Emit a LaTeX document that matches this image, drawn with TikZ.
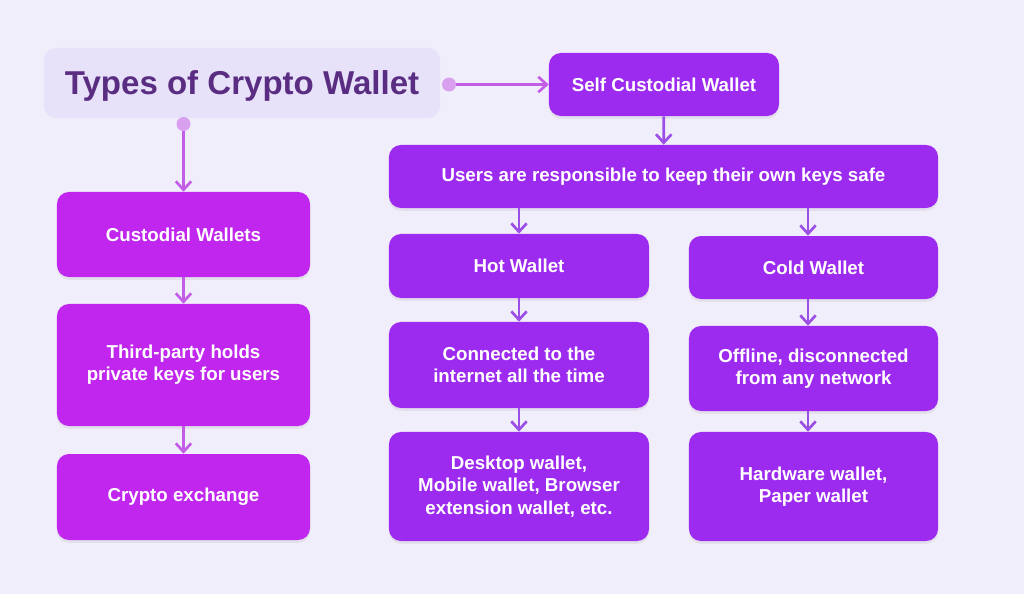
\documentclass[tikz,border=0pt]{standalone}
\usepackage{fontspec}
\setmainfont{Liberation Sans}
\usetikzlibrary{positioning,arrows.meta,shadows}

\definecolor{pagebg}{HTML}{F1EEFB}
\definecolor{titlebg}{HTML}{E7E2FA}
\definecolor{titleink}{HTML}{5A2D82}
\definecolor{custfill}{HTML}{C026EE}
\definecolor{selffill}{HTML}{9D2BEF}
\definecolor{custline}{HTML}{C25EE6}
\definecolor{selfline}{HTML}{9B4FE6}
\definecolor{dotfill}{HTML}{D9A0F0}

\begin{document}
\begin{tikzpicture} [
	x=0.025cm,y=-0.025cm,
	text centered,
	font=\fontsize{13.3}{15.8}\selectfont\bfseries,
	nbox/.style={
		rectangle,rounded corners=0.3cm,text=white,align=center,
		drop shadow={opacity=0.12,shadow xshift=0pt,shadow yshift=-2pt}
	},
	ncust/.style={
		nbox,fill=custfill,minimum width=6.325cm
	},
	nself/.style={
		nbox,fill=selffill
	},
	nhalf/.style={
		nself,minimum width=6.5cm
	},
	ntitle/.style={
		rectangle,rounded corners=0.3cm,fill=titlebg,text=titleink,
		minimum width=9.9cm,minimum height=1.75cm,text depth=0pt,
		font=\fontsize{23.5}{28}\selectfont\bfseries
	},
	custarrow/.style={-{Straight Barb[length=6pt,width=11pt]},draw=custline,line width=1.9pt},
	selfarrow/.style={-{Straight Barb[length=6pt,width=11pt]},draw=selfline,line width=1.9pt},
	ndot/.style={circle,fill=dotfill,inner sep=0pt,minimum size=0.35cm}
]
\fill [pagebg] (0,0) rectangle (1024,594);

% title and its two ways out
\node [ntitle]	(title)		at (242,83)		{Types of Crypto Wallet};
\node [ndot]	(rdot)		at (449,84.5)	{};
\node [ndot]	(bdot)		at (183.5,124)	{};

% custodial branch
\node [ncust,minimum height=2.125cm]	(custodial)	at (183.5,234.5)	{Custodial Wallets};
\node [ncust,minimum height=3.05cm]	(thirdparty)	at (183.5,365)	{Third-party holds\\private keys for users};
\node [ncust,minimum height=2.15cm]	(exchange)	at (183.5,497)	{Crypto exchange};

% self custodial branch
\node [nself,minimum width=5.75cm,minimum height=1.575cm]	(selfcust)	at (664,84.5)	{Self Custodial Wallet};
\node [nself,minimum width=13.725cm,minimum height=1.575cm]	(users)	at (663.5,176.5)	{Users are responsible to keep their own keys safe};
\node [nhalf,minimum height=1.6cm]	(hot)		at (519,266)	{Hot Wallet};
\node [nhalf,minimum width=6.225cm,minimum height=1.575cm]	(cold)	at (813.5,267.5)	{Cold Wallet};
\node [nhalf,minimum height=2.15cm]	(online)	at (519,365)	{Connected to the\\internet all the time};
\node [nhalf,minimum width=6.225cm,minimum height=2.125cm]	(offline)	at (813.5,368.5)	{Offline, disconnected\\from any network};
\node [nhalf,minimum height=2.725cm]	(hotkinds)	at (519,486.5)	{Desktop wallet,\\Mobile wallet, Browser\\extension wallet, etc.};
\node [nhalf,minimum width=6.225cm,minimum height=2.725cm]	(coldkinds)	at (813.5,486.5)	{Hardware wallet,\\Paper wallet};

% connectors
\draw [custarrow] (rdot.east) -- (rdot -| selfcust.west);
\draw [custarrow] (bdot.south) -- (custodial.north);
\draw [custarrow] (custodial) -- (thirdparty);
\draw [custarrow] (thirdparty) -- (exchange);
\draw [selfarrow] (selfcust) -- (users);
\draw [selfarrow] (users.south -| hot) -- (hot.north);
\draw [selfarrow] (users.south -| 808,0) -- (808,0 |- cold.north);
\draw [selfarrow] (hot) -- (online);
\draw [selfarrow] (online) -- (hotkinds);
\draw [selfarrow] (cold.south -| 808,0) -- (808,0 |- offline.north);
\draw [selfarrow] (offline.south -| 808,0) -- (808,0 |- coldkinds.north);
\end{tikzpicture}
\end{document}
